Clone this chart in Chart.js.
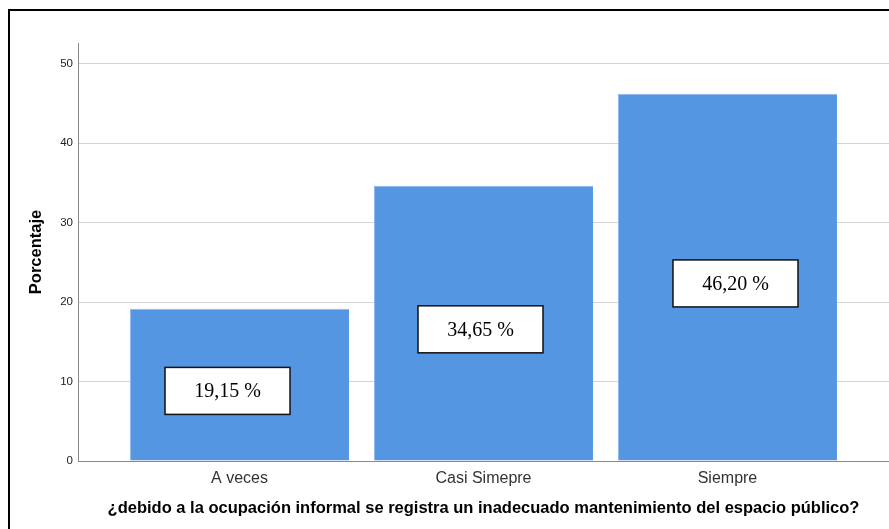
<!DOCTYPE html>
<html>
<head>
<meta charset="utf-8">
<script src="https://cdn.jsdelivr.net/npm/chart.js@4.4.0/dist/chart.umd.min.js"></script>
<style>
  html, body { margin: 0; padding: 0; background: #fff; overflow: hidden; }
  #wrap { position: relative; width: 889px; height: 529px; }
  #frame {
    position: absolute; left: 8px; top: 9px; width: 1000px; height: 1000px;
    border: 2px solid #000; box-sizing: border-box; pointer-events: none;
  }
  canvas { position: absolute; left: 0; top: 0; }
</style>
</head>
<body>
<div id="wrap">
  <canvas id="chart" width="889" height="529"></canvas>
  <div id="frame"></div>
</div>
<script>
// Datos del gráfico
const categories = ['A veces', 'Casi Simepre', 'Siempre'];
const porcentajes = [19.15, 34.65, 46.20];
const yTicks = [0, 10, 20, 30, 40, 50];

const BAR_COLOR = '#5596e3';

/**
 * Cajas blancas con el porcentaje dentro de cada barra
 */
const valueBoxes = {
    id: 'valueBoxes',
    afterDatasetsDraw(chart, args, opts) {
        const { ctx, scales } = chart;
        const meta = chart.getDatasetMeta(0);
        ctx.save();
        meta.data.forEach((bar, i) => {
            const v = porcentajes[i];
            const cx = bar.x + opts.shiftX[i];
            const cy = scales.y.getPixelForValue(v / 2) + 6;
            const w = 125, h = 47;
            ctx.fillStyle = '#fff';
            ctx.fillRect(cx - w / 2, cy - h / 2, w, h);
            ctx.strokeStyle = '#111';
            ctx.lineWidth = 1.5;
            ctx.strokeRect(cx - w / 2, cy - h / 2, w, h);
            ctx.fillStyle = '#000';
            ctx.font = '20px "Liberation Serif", "Times New Roman", serif';
            ctx.textAlign = 'center';
            ctx.textBaseline = 'middle';
            ctx.fillText(v.toFixed(2).replace('.', ',') + ' %', cx, cy + 1);
        });
        ctx.restore();
    }
};

const ctx = document.getElementById('chart');

new Chart(ctx, {
    type: 'bar',
    data: {
        datasets: [{
            data: porcentajes.map((v, i) => ({ x: i, y: v })),
            backgroundColor: BAR_COLOR,
            borderColor: '#8fb8ec',
            borderWidth: { top: 1, left: 1, right: 0, bottom: 0 },
            barPercentage: 0.8975,
            categoryPercentage: 1
        }]
    },
    plugins: [valueBoxes],
    options: {
        responsive: false,
        animation: false,
        layout: { padding: { left: 20, top: 43, right: 0, bottom: 10 } },
        plugins: {
            legend: { display: false },
            tooltip: { enabled: false },
            valueBoxes: { shiftX: [-12, -3, 8] }
        },
        scales: {
            x: {
                type: 'linear',
                offset: false,
                min: -0.662,
                max: 2.662,
                afterBuildTicks: (scale) => {
                    scale.ticks = categories.map((c, i) => ({ value: i }));
                },
                afterFit: (scale) => { scale.height = 58; },
                ticks: {
                    callback: (value) => categories[value],
                    color: '#333',
                    padding: 8,
                    font: { family: '"Liberation Sans", Arial, sans-serif', size: 16 }
                },
                grid: { display: false, drawTicks: false },
                border: { display: true, color: '#888', width: 1 },
                title: {
                    display: true,
                    text: '¿debido a la ocupación informal se registra un inadecuado mantenimiento del espacio público?',
                    color: '#000',
                    padding: { top: 0, bottom: 1 },
                    font: { family: '"Liberation Sans", Arial, sans-serif', size: 16.5, weight: 'bold' }
                }
            },
            y: {
                min: 0,
                max: 52.6,
                afterBuildTicks: (scale) => {
                    scale.ticks = yTicks.map(v => ({ value: v }));
                },
                afterFit: (scale) => { scale.width = 58; },
                ticks: {
                    color: '#222',
                    padding: 5,
                    font: { family: '"Liberation Sans", Arial, sans-serif', size: 11.5 }
                },
                grid: { color: '#d4d4d4', lineWidth: 1, drawTicks: false },
                border: { display: true, color: '#888', width: 1 },
                title: {
                    display: true,
                    text: 'Porcentaje',
                    color: '#000',
                    padding: { top: 7, bottom: 0 },
                    font: { family: '"Liberation Sans", Arial, sans-serif', size: 16.5, weight: 'bold' }
                }
            }
        }
    }
});
</script>
</body>
</html>
